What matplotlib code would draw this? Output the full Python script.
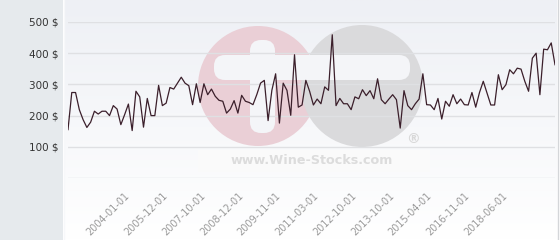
import numpy as np
import matplotlib
matplotlib.use("Agg")
import matplotlib.pyplot as plt
from matplotlib.patches import Circle, FancyBboxPatch, Rectangle

# price series, one value per observation (category axis)
prices = [
    155, 274, 274, 219, 187, 162, 179, 214, 205, 214, 214, 200, 232, 221, 171, 203, 237, 152,
    278, 260, 163, 255, 200, 200, 297, 232, 240, 290, 285, 304, 323, 304, 296, 235, 302,
    242, 302, 267, 285, 262, 249, 246, 208, 221, 248, 208, 265, 246, 242, 235, 267, 304, 313,
    184, 281, 334, 176, 304, 281, 201, 395, 227, 234, 313, 278, 234, 253, 238, 292, 281, 459,
    232, 255, 238, 238, 219, 260, 254, 283, 264, 280, 254, 318,
    251, 238, 253, 267, 251, 160, 280, 232, 219, 238, 253, 334, 235, 234, 219, 255, 189, 246,
    230, 267, 238, 253, 235, 234, 274, 227, 274, 310, 272, 234, 234, 331, 283, 299, 347, 334,
    352, 349, 310, 278, 384, 400, 267, 413, 411, 433, 363,
]
tick_dates = [
    "2004-01-01", "2005-12-01", "2007-10-01", "2008-12-01", "2009-11-01", "2011-03-01",
    "2012-10-01", "2013-10-01", "2015-04-01", "2016-11-01", "2018-06-01",
]
first_tick = 15
tick_step = 10
y_ticks = [0, 100, 200, 300, 400, 500]

W, H = 560, 240
fig = plt.figure(figsize=(W / 100, H / 100), dpi=100)

# background: grey side panel + soft gradient plot area
bg = fig.add_axes([0, 0, 1, 1])
bg.set_xlim(0, W)
bg.set_ylim(H, 0)
bg.axis("off")
bg.add_patch(Rectangle((0, 0), 63, H, color="#e6eaed", lw=0))
grad = np.linspace(0, 1, 100).reshape(-1, 1)
cmap = matplotlib.colors.LinearSegmentedColormap.from_list("g", ["#eef0f5", "#ffffff"])
bg.imshow(grad, cmap=cmap, extent=(64, 557, H, 0), aspect="auto")
bg.plot([63.5, 63.5], [0, H], color="#f7f8fa", lw=1)
bg.plot([557.5, 557.5], [0, H], color="#d4d6d9", lw=1)

# watermark logo
bg.add_patch(Circle((258, 86), 60, color="#eacfd6", lw=0))
bg.add_patch(Circle((362, 86), 61, color="#dadadc", lw=0))
bg.add_patch(FancyBboxPatch((214, 55), 196, 25, boxstyle="round,pad=0,rounding_size=11",
                            color="#f4f5f8", lw=0))
bg.add_patch(FancyBboxPatch((250, 40), 25, 93, boxstyle="round,pad=0,rounding_size=11",
                            color="#f4f5f8", lw=0))
bg.add_patch(Rectangle((198, 150), 232, 22, color="#fafafa", lw=0))
bg.text(312, 161, "www.Wine-Stocks.com", ha="center", va="center", fontsize=9.2,
        fontweight="bold", color="#dcdcdc")
bg.text(413, 139, "®", ha="center", va="center", fontsize=10, fontweight="bold", color="#d8d8d8")

ax = fig.add_axes([68 / W, (H - 178) / H, (555 - 68) / W, 156 / H])
ax.patch.set_alpha(0)
x = np.arange(len(prices))
ax.plot(x, prices, color="#3b1f2b", lw=0.9, zorder=3)
ax.set_xlim(0, len(prices) - 1)
ax.set_ylim(0, 500)
ax.set_yticks(y_ticks)
ax.set_yticklabels(["" if v == 0 else f"{v} $" for v in y_ticks])
ax.yaxis.grid(True, color="#dfe0e3", lw=1)
ax.set_axisbelow(True)
ax.set_xticks([first_tick + i * tick_step for i in range(len(tick_dates))])
ax.set_xticklabels(tick_dates, rotation=45, ha="right", rotation_mode="anchor")
ax.tick_params(axis="y", length=0, pad=7, labelsize=7.5, labelcolor="#333333")
ax.tick_params(axis="x", length=0, pad=9, labelsize=7, labelcolor="#9a9a9a")
for s in ax.spines.values():
    s.set_visible(False)

fig.savefig("out.png", dpi=100)
